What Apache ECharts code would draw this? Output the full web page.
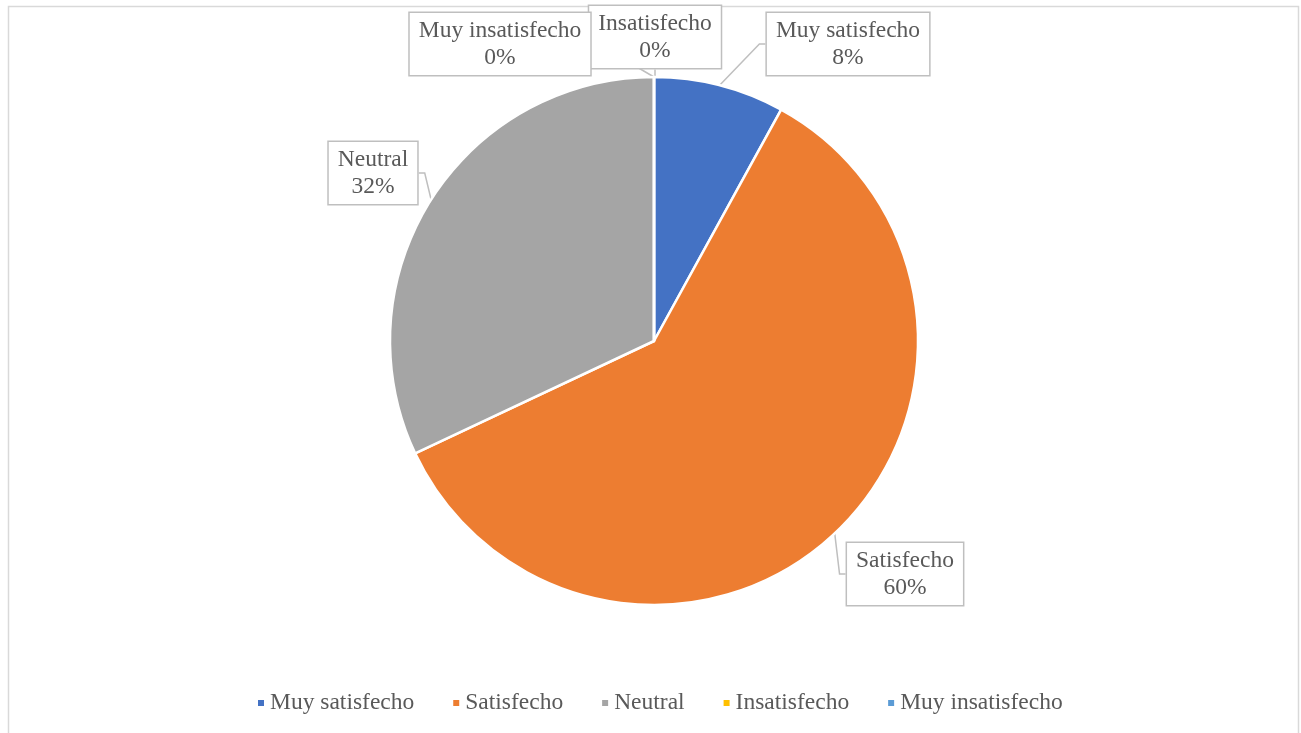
<!DOCTYPE html>
<html>
<head>
<meta charset="utf-8">
<script src="https://cdn.jsdelivr.net/npm/echarts@6/dist/echarts.min.js"></script>
<style>
  html, body { margin: 0; padding: 0; background: #ffffff; }
  #chart { width: 1301px; height: 733px; }
</style>
</head>
<body>
<div id="chart"></div>
<script>
// Survey answers and their share of responses (%)
const categories = ['Muy satisfecho', 'Satisfecho', 'Neutral', 'Insatisfecho', 'Muy insatisfecho'];
const shares = [8, 60, 32, 0, 0];
const sliceColors = ['#4472C4', '#ED7D31', '#A5A5A5', '#FFC000', '#5B9BD5'];

// Where each callout box sits (box centre, px)
const calloutCentres = [[848, 44], [905, 574], [373, 173], [655, 37], [500, 44]];

const textColor = '#595959';
const fontFamily = '"Liberation Serif", "Times New Roman", serif';

const chart = echarts.init(document.getElementById('chart'), null, { renderer: 'canvas' });

chart.setOption({
  backgroundColor: '#ffffff',
  animation: false,
  color: sliceColors,
  graphic: [{
    type: 'rect',
    shape: { x: 8.5, y: 6.5, width: 1290, height: 760 },
    style: { fill: 'none', stroke: '#d9d9d9', lineWidth: 1.5 },
    silent: true,
    z: -1
  }],
  legend: {
    data: categories,
    left: 251,
    top: 686,
    icon: 'rect',
    itemWidth: 8,
    itemHeight: 8,
    itemGap: 37,
    textStyle: { color: textColor, fontFamily: fontFamily, fontSize: 23.5 }
  },
  series: [{
    type: 'pie',
    center: [654, 341],
    radius: [0, 264],
    startAngle: 90,
    clockwise: true,
    avoidLabelOverlap: false,
    itemStyle: { borderColor: '#ffffff', borderWidth: 2.5 },
    label: {
      show: true,
      position: 'outside',
      formatter: p => p.name + '\n' + p.value + '%',
      color: textColor,
      fontFamily: fontFamily,
      fontSize: 23.5,
      lineHeight: 27,
      align: 'center',
      backgroundColor: '#ffffff',
      borderColor: '#bfbfbf',
      borderWidth: 1.5,
      padding: [7, 9, 1, 9]
    },
    labelLine: {
      show: true,
      length: 12,
      length2: 6,
      lineStyle: { color: '#bfbfbf', width: 1.5 }
    },
    labelLayout: p => ({
      x: calloutCentres[p.dataIndex][0],
      y: calloutCentres[p.dataIndex][1],
      align: 'center',
      verticalAlign: 'middle'
    }),
    emphasis: { disabled: true },
    data: categories.map((name, i) => ({ name: name, value: shares[i] }))
  }]
});
</script>
</body>
</html>
